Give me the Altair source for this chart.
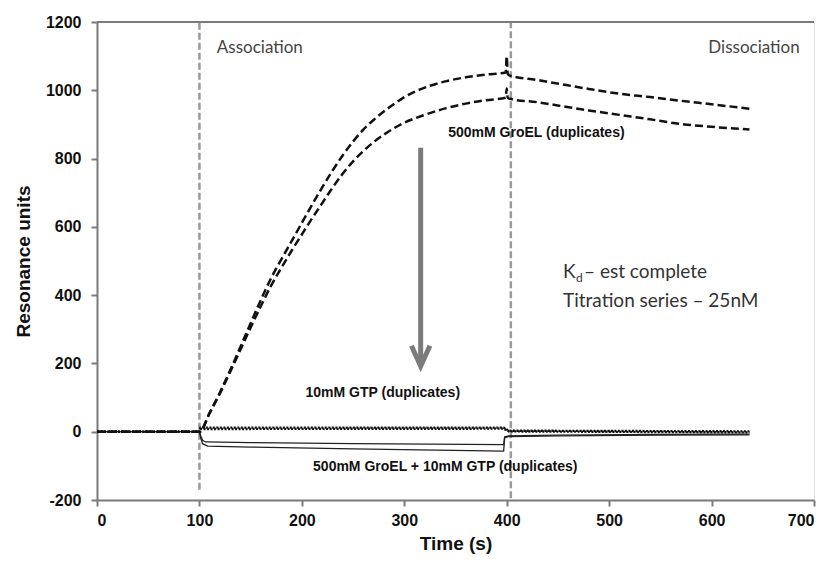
import altair as alt
import pandas as pd

# ---- data ----
groel_a_t = [0, 100, 110, 120, 130, 140, 150, 160, 170, 180, 190, 200, 210, 220, 230, 240, 250, 260, 270, 280, 290, 300,
             320, 340, 360, 380, 399, 400, 401, 403, 430, 451, 480, 510, 540, 568, 600, 637]
groel_a_v = [0, 0, 55, 115, 180, 248, 318, 386, 450, 505, 558, 612, 665, 716, 765, 810, 850, 885, 913, 938, 960, 980,
             1008, 1026, 1038, 1046, 1052, 1100, 1048, 1043, 1030, 1019, 1004, 990, 980, 970, 959, 946]

groel_b_t = [0, 100, 110, 120, 130, 140, 150, 160, 170, 180, 190, 200, 210, 220, 230, 240, 250, 260, 270, 280, 290, 300,
             320, 340, 360, 380, 399, 400, 401, 403, 430, 451, 480, 510, 540, 568, 600, 637]
groel_b_v = [0, 0, 55, 112, 175, 240, 305, 368, 428, 480, 530, 578, 625, 670, 715, 756, 792, 822, 848, 870, 889, 905,
             928, 947, 961, 971, 978, 1005, 978, 975, 965, 955, 941, 928, 915, 902, 893, 885]

gtp_a_t = [0, 100, 101, 397, 402, 637]
gtp_a_v = [0, 0, 12, 12, 3, 1]
gtp_b_t = [0, 100, 101, 397, 402, 637]
gtp_b_v = [0, 0, 8, 9, 1, -2]

mix_a_t = [0, 100, 101, 103, 106, 150, 250, 397, 398, 402, 450, 550, 637]
mix_a_v = [0, 0, -10, -25, -30, -32, -35, -38, -15, -12, -10, -8, -7]
mix_b_t = [0, 100, 101, 103, 108, 150, 250, 397, 398, 402, 450, 550, 637]
mix_b_v = [0, 0, -15, -35, -42, -45, -50, -57, -18, -14, -12, -10, -9]

phase_t = [100, 404]
phase_lo = [-170, -195]
phase_hi = [1200, 1200]

x_ticks = [0, 100, 200, 300, 400, 500, 600, 700]
y_ticks = [-200, 0, 200, 400, 600, 800, 1000, 1200]


def frame(name, ts, vs):
    return pd.DataFrame({"series": name, "t": ts, "v": vs, "o": range(len(ts))})


dashed_df = pd.concat([frame("GroEL A", groel_a_t, groel_a_v), frame("GroEL B", groel_b_t, groel_b_v)])
dotted_df = pd.concat([frame("GTP A", gtp_a_t, gtp_a_v), frame("GTP B", gtp_b_t, gtp_b_v)])
solid_df = pd.concat([frame("Mix A", mix_a_t, mix_a_v), frame("Mix B", mix_b_t, mix_b_v)])
phase_df = pd.DataFrame({"t": phase_t, "lo": phase_lo, "hi": phase_hi})

xs = alt.Scale(domain=[0, 700], nice=False)
ys = alt.Scale(domain=[-200, 1200], nice=False)

X = alt.X("t:Q", scale=xs, title="Time (s)",
          axis=alt.Axis(values=x_ticks, grid=False, labelExpr="'' + datum.value",
                        labelFont="Liberation Sans", labelFontSize=16,
                        labelFontWeight="bold", labelColor="#111", titleFont="Liberation Sans",
                        titleFontSize=19, titleFontWeight="bold", titleColor="#111", titlePadding=6,
                        domainColor="#7a7a7a", domainWidth=2, tickColor="#7a7a7a", tickWidth=2,
                        tickSize=6, labelPadding=6))
Y = alt.Y("v:Q", scale=ys, title="Resonance units",
          axis=alt.Axis(values=y_ticks, grid=False, labelExpr="'' + datum.value",
                        labelFont="Liberation Sans", labelFontSize=16,
                        labelFontWeight="bold", labelColor="#111", titleFont="Liberation Sans",
                        titleFontSize=19, titleFontWeight="bold", titleColor="#111", titlePadding=12,
                        domainColor="#7a7a7a", domainWidth=2, tickColor="#7a7a7a", tickWidth=2,
                        tickSize=6, labelPadding=10))

phase = alt.Chart(phase_df).mark_rule(color="#9a9a9a", strokeWidth=2.5, strokeDash=[7, 3]).encode(
    x=alt.X("t:Q", scale=xs), y=alt.Y("lo:Q", scale=ys), y2="hi:Q")

top_rule = alt.Chart(pd.DataFrame({"v": [1200]})).mark_rule(color="#7a7a7a", strokeWidth=2).encode(
    y=alt.Y("v:Q", scale=ys))

solid = alt.Chart(solid_df).mark_line(color="#222", strokeWidth=1.3).encode(
    x=X, y=Y, detail="series:N", order="o:Q")
dotted = alt.Chart(dotted_df).mark_line(color="#111", strokeWidth=2.4, strokeDash=[2, 1.5]).encode(
    x=X, y=Y, detail="series:N", order="o:Q")
dashed = alt.Chart(dashed_df).mark_line(color="#111", strokeWidth=2.5, strokeDash=[8, 4],
                                        interpolate="monotone").encode(
    x=X, y=Y, detail="series:N", order="o:Q")

arrow_df = pd.DataFrame({"t": [316], "v1": [832], "v2": [196]})
arrow_shaft = alt.Chart(arrow_df).mark_rule(color="#7b7b7b", strokeWidth=5).encode(
    x=alt.X("t:Q", scale=xs), y=alt.Y("v1:Q", scale=ys), y2="v2:Q")
arrow_head = alt.Chart(pd.DataFrame({"t": [316], "v": [192]})).mark_point(
    shape="M-0.9,-2L0,0L0.9,-2", size=420, filled=False, color="#7b7b7b", strokeWidth=5,
    opacity=1, strokeJoin="miter").encode(x=alt.X("t:Q", scale=xs), y=alt.Y("v:Q", scale=ys))

bold_labels = pd.DataFrame({
    "t": [429, 279, 340],
    "v": [876, 114, -103],
    "label": ["500mM GroEL (duplicates)", "10mM GTP (duplicates)", "500mM GroEL + 10mM GTP (duplicates)"],
})
bold_text = alt.Chart(bold_labels).mark_text(font="Liberation Sans", fontWeight="bold", fontSize=14,
                                              color="#111", align="center", baseline="middle").encode(
    x=alt.X("t:Q", scale=xs), y=alt.Y("v:Q", scale=ys), text="label:N")

phase_labels = pd.DataFrame({"t": [117, 686], "v": [1125, 1125], "label": ["Association", "Dissociation"]})
assoc = alt.Chart(phase_labels.iloc[[0]]).mark_text(font="Lato", fontSize=17, color="#444",
                                                     align="left", baseline="middle").encode(
    x=alt.X("t:Q", scale=xs), y=alt.Y("v:Q", scale=ys), text="label:N")
dissoc = alt.Chart(phase_labels.iloc[[1]]).mark_text(font="Lato", fontSize=17, color="#444",
                                                      align="right", baseline="middle").encode(
    x=alt.X("t:Q", scale=xs), y=alt.Y("v:Q", scale=ys), text="label:N")

kd_t = 455
k_text = alt.Chart(pd.DataFrame({"t": [kd_t], "v": [469], "s": ["K"]})).mark_text(
    font="Lato", fontSize=19, color="#333", align="left", baseline="middle").encode(
    x=alt.X("t:Q", scale=xs), y=alt.Y("v:Q", scale=ys), text="s:N")
d_text = alt.Chart(pd.DataFrame({"t": [kd_t], "v": [469], "s": ["d"]})).mark_text(
    font="Lato", fontSize=12, color="#333", align="left", baseline="middle", dx=13, dy=6).encode(
    x=alt.X("t:Q", scale=xs), y=alt.Y("v:Q", scale=ys), text="s:N")
kd_rest = alt.Chart(pd.DataFrame({"t": [kd_t], "v": [469], "s": ["– est complete"]})).mark_text(
    font="Lato", fontSize=19, color="#333", align="left", baseline="middle", dx=21).encode(
    x=alt.X("t:Q", scale=xs), y=alt.Y("v:Q", scale=ys), text="s:N")
titr = alt.Chart(pd.DataFrame({"t": [kd_t], "v": [384], "s": ["Titration series – 25nM"]})).mark_text(
    font="Lato", fontSize=19, color="#333", align="left", baseline="middle").encode(
    x=alt.X("t:Q", scale=xs), y=alt.Y("v:Q", scale=ys), text="s:N")

chart = alt.layer(
    phase, top_rule, solid, dotted, dashed, arrow_shaft, arrow_head,
    bold_text, assoc, dissoc, k_text, d_text, kd_rest, titr
).properties(
    width=717, height=478,
    autosize=alt.AutoSizeParams(type="none"),
    padding={"left": 89, "top": 14, "right": 10, "bottom": 59},
).configure_view(stroke="#7a7a7a", strokeWidth=2).configure(background="white")

chart.save("out.html", embed_options={"renderer": "svg", "actions": False})
